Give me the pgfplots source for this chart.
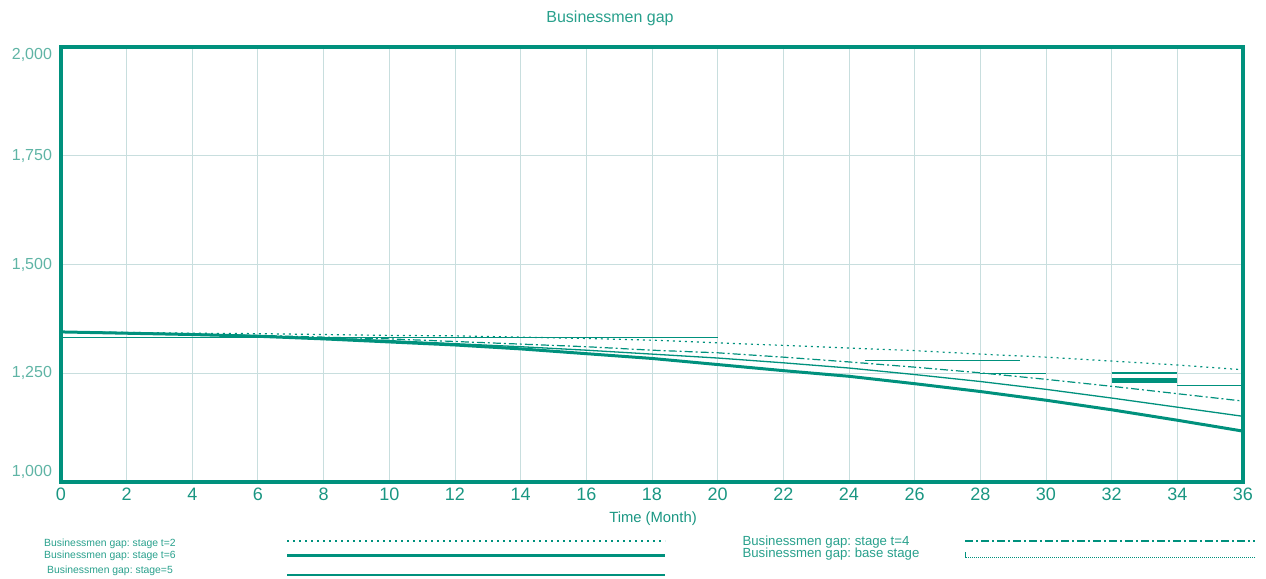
\documentclass[border=0pt]{standalone}
\usepackage{pgfplots}
\pgfplotsset{compat=1.18}
\usepackage{fontspec}
\setmainfont{Liberation Sans}
\frenchspacing
\definecolor{tealc}{RGB}{0,145,125}
\definecolor{gridc}{RGB}{200,222,222}
\definecolor{ytxt}{RGB}{95,180,165}
\definecolor{xtxt}{RGB}{25,150,130}
\definecolor{ttxt}{RGB}{40,160,140}
\begin{document}
\begin{tikzpicture}[x=1pt,y=1pt]
\path[use as bounding box] (0,0) rectangle (633,289.5);
\begin{axis}[
  at={(30.5pt,48.5pt)}, anchor=south west,
  scale only axis, width=591pt, height=217.5pt,
  xmin=0, xmax=36, ymin=1000, ymax=2000,
  xtick={0,2,...,36},
  ytick={1000,1250,1500,1750,2000},
  yticklabels={{\raisebox{5pt}[\height][\depth]{1,000}},{1,250},{1,500},{1,750},{\raisebox{-4pt}[\height][\depth]{2,000}}},
  /pgf/number format/assume math mode=true,
  grid=major,
  major grid style={gridc, line width=0.5pt},
  axis line style={tealc, line width=2pt},
  major tick length=0pt,
  tick style={draw=none},
  xticklabel style={font=\fontsize{9}{10}\selectfont, text=xtxt, yshift=0.5pt},
  yticklabel style={font=\fontsize{8}{9}\selectfont, text=ytxt, xshift=-1pt},
  unbounded coords=jump,
  clip=false,
]
% stage t=2 (dotted)
\addplot[tealc, line width=0.6pt, dash pattern=on 1pt off 2pt] coordinates {
(0,1345)(2,1344)(4,1342)(6,1341)(8,1339)(10,1337)(12,1336)(14,1333)(16,1330)(18,1326)(20,1320)(22,1314)(24,1308)(26,1302)(28,1294)(30,1287)(32,1278)(34,1269)(36,1258)};
% stage t=4 (dash-dot)
\addplot[tealc, line width=0.6pt, dash pattern=on 4pt off 1.5pt on 1pt off 1.5pt] coordinates {
(0,1345)(2,1343)(4,1340)(6,1337)(8,1333)(10,1329)(12,1323)(14,1317)(16,1311)(18,1303)(20,1297)(22,1287)(24,1276)(26,1264)(28,1251)(30,1236)(32,1220)(34,1203)(36,1186)};
% stage=5 (thin)
\addplot[tealc, line width=0.65pt] coordinates {
(0,1345)(2,1343)(4,1340)(6,1336)(8,1331)(10,1325)(12,1318)(14,1311)(16,1303)(18,1294)(20,1285)(22,1274)(24,1262)(26,1247)(28,1231)(30,1213)(32,1193)(34,1172)(36,1151)};
% stage t=6 (thick)
\addplot[tealc, line width=1.5pt] coordinates {
(0,1345)(2,1342)(4,1339)(6,1335)(8,1329)(10,1322)(12,1315)(14,1306)(16,1295)(18,1284)(20,1270)(22,1256)(24,1243)(26,1226)(28,1208)(30,1188)(32,1166)(34,1142)(36,1117)};
% base stage (step segments)
\addplot[tealc, line width=0.65pt] coordinates {
(0,1332)(20,1332)(20,nan)
(24.5,1280)(29.2,1280)(29.2,nan)
(28,1250)(30,1250)(30,nan)
(34,1222)(36,1222)};
\addplot[tealc, line width=1.2pt] coordinates {(32,1250)(34,1250)};
\addplot[tealc, line width=2.6pt] coordinates {(32,1234)(34,1234)};
\end{axis}
\node[text=ttxt, font=\fontsize{8}{9}\selectfont] at (305,280.5) {Businessmen gap};
\node[text=xtxt, font=\fontsize{7.4}{9}\selectfont] at (326.5,30) {Time (Month)};
% legend
\begin{scope}[every node/.style={text=ttxt, font=\fontsize{5.2}{6}\selectfont, inner sep=0pt}]
\node at (55,17.5) {Businessmen gap: stage t=2};
\node at (55,11.5) {Businessmen gap: stage t=6};
\node at (55,4) {Businessmen gap: stage=5};
\end{scope}
\draw[tealc, line width=0.6pt, dash pattern=on 1pt off 2pt] (143.5,19) -- (332.5,19);
\draw[tealc, line width=1.5pt] (143.5,11.5) -- (332.5,11.5);
\draw[tealc, line width=0.65pt] (143.5,2) -- (332.5,2);
\begin{scope}[every node/.style={text=ttxt, font=\fontsize{6.6}{7.5}\selectfont, inner sep=0pt}]
\node at (413,18.5) {Businessmen gap: stage t=4};
\node at (415.5,12.5) {Businessmen gap: base stage};
\end{scope}
\draw[tealc, line width=0.6pt, dash pattern=on 4pt off 1.5pt on 1pt off 1.5pt] (482.5,19) -- (627.5,19);
\draw[tealc, line width=0.4pt, dash pattern=on 0.4pt off 0.6pt] (483,11) -- (627.5,11);
\draw[tealc, line width=0.3pt] (482.7,10.5) -- (482.7,13.5);
\end{tikzpicture}
\end{document}
